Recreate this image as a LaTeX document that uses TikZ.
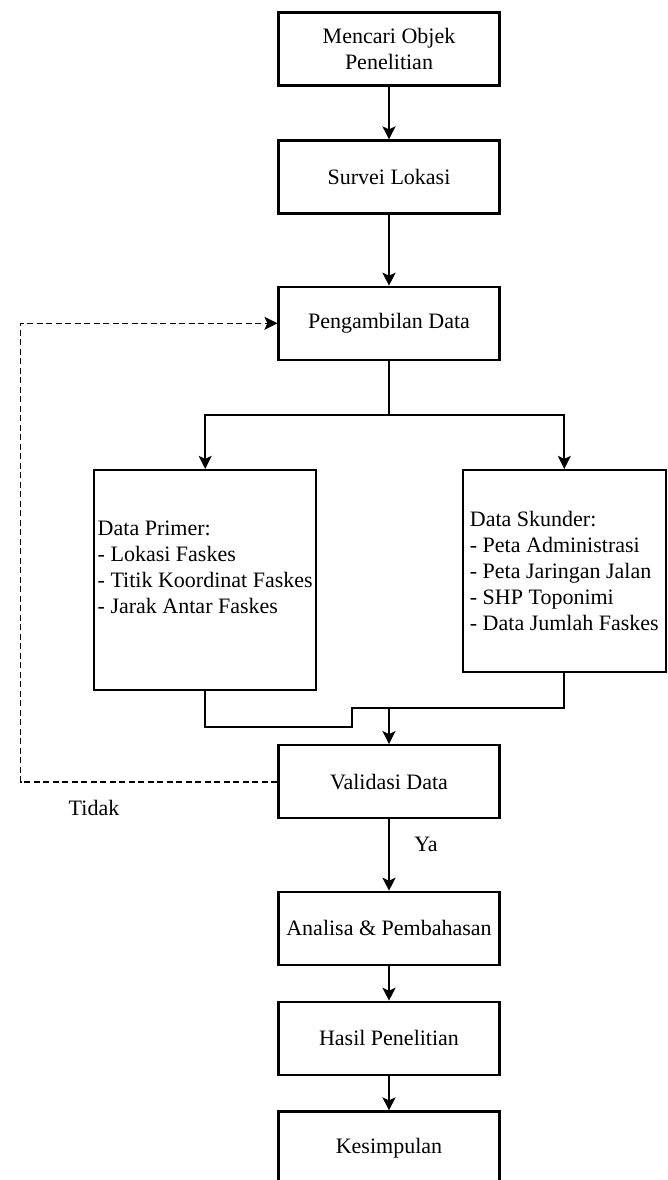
\documentclass[tikz,border=0pt]{standalone}
\usepackage{fontspec}
\setmainfont{Liberation Serif}
\usetikzlibrary{arrows.meta}

\tikzset{
	box/.style={draw,line width=2.2pt,minimum width=221pt,minimum height=73pt,align=center,inner sep=2pt},
	link/.style={line width=2pt},
	arr/.style={link,-{Stealth[length=13pt,width=13pt,inset=3pt]}},
	loopback/.style={arr,line width=1.6pt,dash pattern=on 6pt off 3.5pt},
}

\begin{document}
\begin{tikzpicture}[x=1pt,y=-1pt,font=\fontsize{22}{26}\selectfont]
			\clip (0,0) rectangle (667,1180);
			\node[box] (cari) at (389,49) {Mencari Objek\\Penelitian};
			\node[box] (survei) at (389,177) {Survei Lokasi};
			\node[box] (ambil) at (389,323.3) {Pengambilan Data};
			\node[box,minimum width=221.7pt,minimum height=220pt,align=left] (primer) at (205.2,580) {Data Primer:\\- Lokasi Faskes\\- Titik Koordinat Faskes\\- Jarak Antar Faskes\\\mbox{}};
			\node[box,minimum width=202.6pt,minimum height=202pt,align=left] (skunder) at (564.3,571) {Data Skunder:\\- Peta Administrasi\\- Peta Jaringan Jalan\\- SHP Toponimi\\- Data Jumlah Faskes};
			\node[box] (validasi) at (389,781.7) {Validasi Data};
			\node[box] (analisa) at (389,928.3) {Analisa \& Pembahasan};
			\node[box] (hasil) at (389,1038.3) {Hasil Penelitian};
			\node[box] (simpul) at (389,1148) {Kesimpulan};
			\node (tidak) at (94,808) {Tidak};
			\node (ya) at (426,844) {Ya};
			\coordinate (split) at (389,415);
			\coordinate (jogA) at (352,726.7);
			\coordinate (jogB) at (352,708.3);
			\coordinate (merge) at (389,708.3);
			\coordinate (back) at (20.6,781.7);
			\draw[arr] (cari) -- (survei);
			\draw[arr] (survei) -- (ambil);
			\draw[link] (ambil) -- (split);
			\draw[arr] (split) -| (primer.north);
			\draw[arr] (split) -| (skunder.north);
			\draw[link] (primer.south) |- (jogA) -- (jogB) -| (skunder.south);
			\draw[arr] (merge) -- (validasi.north);
			\draw[loopback] (validasi.west) -- (back) |- (ambil.west);
			\draw[arr] (validasi) -- (analisa);
			\draw[arr] (analisa) -- (hasil);
			\draw[arr] (hasil) -- (simpul);
		\end{tikzpicture}
\end{document}
